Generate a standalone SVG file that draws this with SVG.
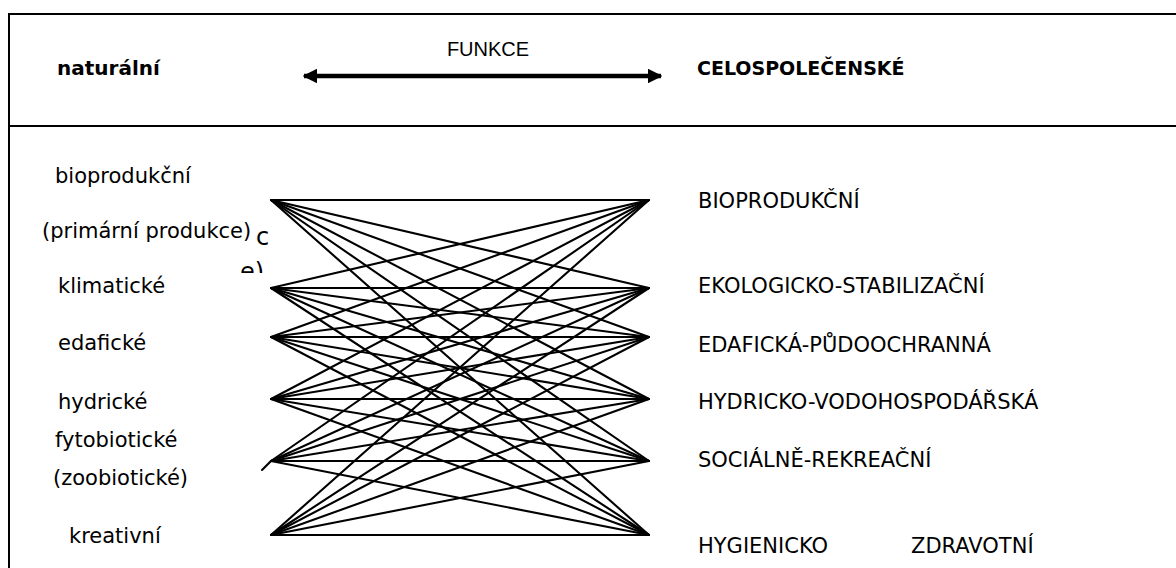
<svg xmlns="http://www.w3.org/2000/svg" width="1176" height="568" viewBox="0 0 1176 568">
  <style>
    .lbl { font-family: "DejaVu Sans", Verdana, sans-serif; font-size: 21px; fill: #000; }
    .hdr { font-family: "DejaVu Sans", Verdana, sans-serif; font-size: 19px; font-weight: bold; fill: #000; }
    .ttl { font-family: "Liberation Sans", Arial, sans-serif; font-size: 20px; fill: #000; }
    .frame { stroke: #000; stroke-width: 2; fill: none; }
    .conn line { stroke: #000; stroke-width: 2.1; stroke-linecap: round; }
  </style>
  <defs>
    <marker id="ah" viewBox="0 0 10 10" refX="9" refY="5" markerWidth="3.3" markerHeight="3.3" orient="auto-start-reverse">
      <path d="M0,0 L10,5 L0,10 z" fill="#000"/>
    </marker>
    <clipPath id="clipc">
      <rect x="230" y="220" width="50" height="53"/>
    </clipPath>
  </defs>
  <rect width="1176" height="568" fill="#fff"/>

  <g id="frame" class="frame">
    <line x1="9" y1="14" x2="1176" y2="14"/>
    <line x1="9" y1="126" x2="1176" y2="126"/>
    <line x1="9" y1="13" x2="9" y2="568"/>
  </g>

  <g id="header">
    <text class="hdr" x="57" y="75" style="font-size:20px">naturální</text>
    <text class="ttl" x="488" y="56" text-anchor="middle">FUNKCE</text>
    <line x1="304" y1="76" x2="661" y2="76" stroke="#000" stroke-width="4.5" marker-start="url(#ah)" marker-end="url(#ah)"/>
    <text class="hdr" x="697" y="75">CELOSPOLEČENSKÉ</text>
  </g>

  <g id="connectors" class="conn">
    <line x1="271" y1="200" x2="649" y2="200"/>
    <line x1="271" y1="200" x2="649" y2="288"/>
    <line x1="271" y1="200" x2="649" y2="337"/>
    <line x1="271" y1="200" x2="649" y2="399"/>
    <line x1="271" y1="200" x2="649" y2="461"/>
    <line x1="271" y1="200" x2="649" y2="535"/>
    <line x1="271" y1="288" x2="649" y2="200"/>
    <line x1="271" y1="288" x2="649" y2="288"/>
    <line x1="271" y1="288" x2="649" y2="337"/>
    <line x1="271" y1="288" x2="649" y2="399"/>
    <line x1="271" y1="288" x2="649" y2="461"/>
    <line x1="271" y1="288" x2="649" y2="535"/>
    <line x1="271" y1="337" x2="649" y2="200"/>
    <line x1="271" y1="337" x2="649" y2="288"/>
    <line x1="271" y1="337" x2="649" y2="337"/>
    <line x1="271" y1="337" x2="649" y2="399"/>
    <line x1="271" y1="337" x2="649" y2="461"/>
    <line x1="271" y1="337" x2="649" y2="535"/>
    <line x1="271" y1="399" x2="649" y2="200"/>
    <line x1="271" y1="399" x2="649" y2="288"/>
    <line x1="271" y1="399" x2="649" y2="337"/>
    <line x1="271" y1="399" x2="649" y2="399"/>
    <line x1="271" y1="399" x2="649" y2="461"/>
    <line x1="271" y1="399" x2="649" y2="535"/>
    <line x1="271" y1="461" x2="649" y2="200"/>
    <line x1="271" y1="461" x2="649" y2="288"/>
    <line x1="271" y1="461" x2="649" y2="337"/>
    <line x1="271" y1="461" x2="649" y2="399"/>
    <line x1="271" y1="461" x2="649" y2="461"/>
    <line x1="271" y1="461" x2="649" y2="535"/>
    <line x1="271" y1="535" x2="649" y2="200"/>
    <line x1="271" y1="535" x2="649" y2="288"/>
    <line x1="271" y1="535" x2="649" y2="337"/>
    <line x1="271" y1="535" x2="649" y2="399"/>
    <line x1="271" y1="535" x2="649" y2="461"/>
    <line x1="271" y1="535" x2="649" y2="535"/>
    <line x1="262" y1="470" x2="271" y2="461"/>
  </g>

  <g id="n-bioprodukcni">
    <text class="lbl" x="55" y="183">bioprodukční</text>
    <text class="lbl" x="42" y="238">(primární produkce)</text>
    <g clip-path="url(#clipc)">
      <text class="lbl" x="256" y="245" style="font-size:24px">c</text>
      <text class="lbl" x="240" y="280" style="font-size:24px">e)</text>
    </g>
  </g>
  <g id="n-klimaticke"><text class="lbl" x="58" y="293">klimatické</text></g>
  <g id="n-edaficke"><text class="lbl" x="58" y="350">edafické</text></g>
  <g id="n-hydricke"><text class="lbl" x="58" y="409">hydrické</text></g>
  <g id="n-fytobioticke">
    <text class="lbl" x="55" y="447">fytobiotické</text>
    <text class="lbl" x="53" y="485">(zoobiotické)</text>
  </g>
  <g id="n-kreativni"><text class="lbl" x="69" y="543">kreativní</text></g>

  <g id="N-bioprodukcni"><text class="lbl" x="698" y="208">BIOPRODUKČNÍ</text></g>
  <g id="N-ekologicko"><text class="lbl" x="698" y="293">EKOLOGICKO-STABILIZAČNÍ</text></g>
  <g id="N-edaficka"><text class="lbl" x="698" y="352">EDAFICKÁ-PŮDOOCHRANNÁ</text></g>
  <g id="N-hydricko"><text class="lbl" x="698" y="409">HYDRICKO-VODOHOSPODÁŘSKÁ</text></g>
  <g id="N-socialne"><text class="lbl" x="698" y="467">SOCIÁLNĚ-REKREAČNÍ</text></g>
  <g id="N-hygienicko">
    <text class="lbl" x="698" y="553">HYGIENICKO</text>
    <text class="lbl" x="911" y="553">ZDRAVOTNÍ</text>
  </g>
</svg>
